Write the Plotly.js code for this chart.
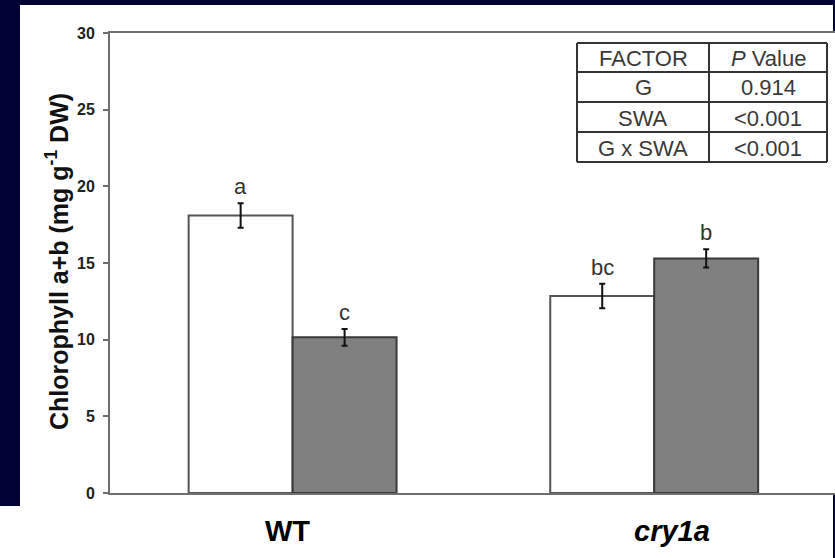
<!DOCTYPE html>
<html>
<head>
<meta charset="utf-8">
<script src="https://cdn.plot.ly/plotly-3.0.1.min.js"></script>
<style>html,body{margin:0;padding:0;background:#020235;}</style>
</head>
<body>
<div id="chart" style="width:835px;height:558px;"></div>
<script>
// ---- data ----
const categories = ['WT', 'cry1a'];
const categoryLabels = ['<b>WT</b>', '<b><i>cry1a</i></b>'];
const controlValues = [18.1, 12.85];
const controlErrors = [0.8, 0.8];
const treatedValues = [10.15, 15.3];
const treatedErrors = [0.55, 0.6];
const controlLetters = ['a', 'bc'];
const treatedLetters = ['c', 'b'];
const yTicks = [0, 5, 10, 15, 20, 25, 30];
const yTickText = ['<b>0</b>', '<b>5</b>', '<b>10</b>', '<b>15</b>', '<b>20</b>', '<b>25</b>', '<b>30</b>'];
const tableHeader = ['FACTOR', '<i>P</i> Value'];
const tableFactors = ['G', 'SWA', 'G x SWA'];
const tablePValues = ['0.914', '&lt;0.001', '&lt;0.001'];

// ---- layout geometry (pixels) ----
const W = 835, H = 558;
const mL = 110, mR = 0, mT = 33, mB = 65;
const plotW = W - mL - mR, plotH = H - mT - mB;
const px = x => (x - mL) / plotW;           // pixel -> paper x
const py = y => (H - mB - y) / plotH;       // pixel -> paper y

const bargap = 0.425;
const off = (1 - bargap) / 4;
const font = 'Arial, "Liberation Sans", sans-serif';

const traces = [
  {
    type: 'bar', x: categories, y: controlValues, name: 'Control',
    marker: {color: '#ffffff', line: {color: '#555555', width: 2}},
    error_y: {type: 'data', array: controlErrors, visible: true, color: '#111111', thickness: 2, width: 3}
  },
  {
    type: 'bar', x: categories, y: treatedValues, name: 'SWA',
    marker: {color: '#808080', line: {color: '#3a3a3a', width: 2}},
    error_y: {type: 'data', array: treatedErrors, visible: true, color: '#111111', thickness: 2, width: 3}
  }
];

const annotations = [];
categories.forEach((c, i) => {
  annotations.push({x: i - off, y: controlValues[i] + controlErrors[i], xref: 'x', yref: 'y',
    text: controlLetters[i], showarrow: false, yanchor: 'bottom', yshift: 2,
    font: {family: font, size: 22, color: '#333333'}});
  annotations.push({x: i + off, y: treatedValues[i] + treatedErrors[i], xref: 'x', yref: 'y',
    text: treatedLetters[i], showarrow: false, yanchor: 'bottom', yshift: 2,
    font: {family: font, size: 22, color: '#333333'}});
});
const labelShift = [-5, 18];
categories.forEach((c, i) => {
  annotations.push({x: i, y: py(531), xref: 'x', yref: 'paper', text: categoryLabels[i],
    showarrow: false, xshift: labelShift[i], yanchor: 'middle',
    font: {family: font, size: 29, color: '#000000'}});
});
// y-axis title
annotations.push({x: px(57), y: py(262), xref: 'paper', yref: 'paper', textangle: -90,
  text: '<b>Chlorophyll a+b (mg g<sup>-1</sup> DW)</b>', showarrow: false,
  xanchor: 'center', yanchor: 'middle', font: {family: font, size: 25, color: '#111111'}});

// table
const tL = 577, tR = 827, tMid = 709;
const rows = [43, 72, 102, 132, 162];
const shapes = [
  // white panel over navy background
  {type: 'rect', xref: 'paper', yref: 'paper', x0: px(20), x1: px(833), y0: py(H), y1: py(5),
   fillcolor: '#ffffff', line: {width: 0}, layer: 'below'},
  {type: 'rect', xref: 'paper', yref: 'paper', x0: px(0), x1: px(20), y0: py(H), y1: py(506),
   fillcolor: '#ffffff', line: {width: 0}, layer: 'below'}
];
rows.forEach(r => shapes.push({type: 'line', xref: 'paper', yref: 'paper',
  x0: px(tL), x1: px(tR), y0: py(r), y1: py(r), line: {color: '#333333', width: 2}}));
[tL, tMid, tR].forEach(c => shapes.push({type: 'line', xref: 'paper', yref: 'paper',
  x0: px(c), x1: px(c), y0: py(rows[0]), y1: py(rows[rows.length - 1]), line: {color: '#333333', width: 2}}));
const colC = [(tL + tMid) / 2, (tMid + tR) / 2];
const tableRows = [tableHeader].concat(tableFactors.map((f, i) => [f, tablePValues[i]]));
tableRows.forEach((row, r) => {
  row.forEach((txt, c) => {
    annotations.push({x: px(colC[c]), y: py((rows[r] + rows[r + 1]) / 2 + 1), xref: 'paper', yref: 'paper',
      text: txt, showarrow: false, xanchor: 'center', yanchor: 'middle',
      font: {family: font, size: 22, color: '#3a3a3a'}});
  });
});

const layout = {
  width: W, height: H,
  margin: {l: mL, r: mR, t: mT, b: mB, pad: 0},
  paper_bgcolor: '#020235',
  plot_bgcolor: '#ffffff',
  showlegend: false,
  barmode: 'group',
  bargap: bargap,
  bargroupgap: 0,
  xaxis: {
    type: 'category', range: [-0.505, 1.5], showticklabels: false, ticks: '',
    showline: true, linecolor: '#6e6e6e', linewidth: 2, mirror: true,
    showgrid: false, zeroline: false, fixedrange: true
  },
  yaxis: {
    range: [0, 30], tickmode: 'array', tickvals: yTicks, ticktext: yTickText,
    ticks: 'outside', ticklen: 5, tickwidth: 2, tickcolor: '#6e6e6e',
    showline: true, linecolor: '#6e6e6e', linewidth: 2, mirror: false,
    showgrid: false, zeroline: false, ticklabelstandoff: 5,
    tickfont: {family: font, size: 16, color: '#222222'}
  },
  annotations: annotations,
  shapes: shapes
};

Plotly.newPlot('chart', traces, layout, {displayModeBar: false, staticPlot: true});
</script>
</body>
</html>
